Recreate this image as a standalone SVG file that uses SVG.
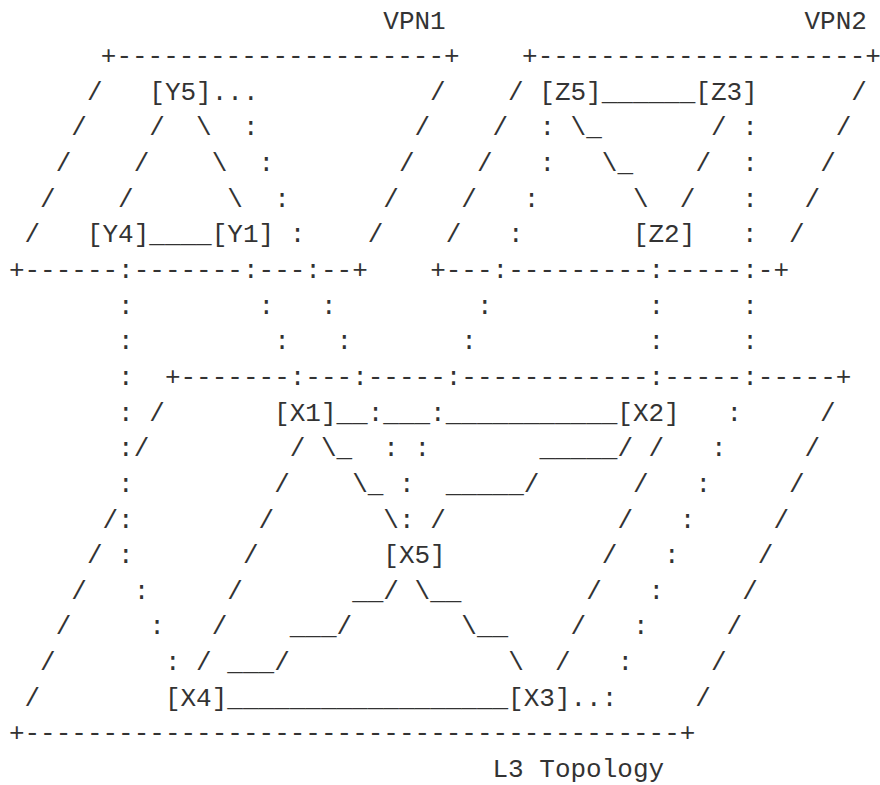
<svg xmlns="http://www.w3.org/2000/svg" width="880" height="785" viewBox="0 0 880 785">
<style>
text{font-family:"Liberation Mono","DejaVu Sans Mono",monospace;font-size:26px;fill:#333333;white-space:pre}
</style>
<rect width="880" height="785" fill="#ffffff"/>
<g id="labels">
<text x="383.3" y="28.5">VPN1</text>
<text x="804.5" y="28.5">VPN2</text>
<text x="492.5" y="776.9">L3 Topology</text>
</g>
<g id="connectors" xml:space="preserve">
<text x="100.8" y="64.1">+---------------------+    +---------------------+</text>
<text x="86.9" y="99.8">/</text>
<text x="211.7" y="99.8">...</text>
<text x="430.1" y="99.8">/    /</text>
<text x="601.7" y="99.8">______</text>
<text x="851.3" y="99.8">/</text>
<text x="8.9" y="135.4">    /    /  \  :          /    /  : \_       / :     /</text>
<text x="8.9" y="171.1">   /    /    \  :        /    /   :   \_    /  :    /</text>
<text x="8.9" y="206.7">  /    /      \  :      /    /   :      \  /   :   /</text>
<text x="24.5" y="242.3">/</text>
<text x="149.3" y="242.3">____</text>
<text x="289.7" y="242.3">:    /    /   :</text>
<text x="742.1" y="242.3">:  /</text>
<text x="8.9" y="278.0">+------:-------:---:--+    +---:---------:-----:-+</text>
<text x="8.9" y="313.6">       :        :   :         :          :     :</text>
<text x="8.9" y="349.3">       :         :   :       :           :     :</text>
<text x="8.9" y="384.9">       :  +-------:---:-----:------------:-----:-----+</text>
<text x="118.1" y="420.5">: /</text>
<text x="336.5" y="420.5">__:___:___________</text>
<text x="726.5" y="420.5">:     /</text>
<text x="8.9" y="456.2">       :/         / \_  : :       _____/ /   :     /</text>
<text x="8.9" y="491.8">       :         /    \_ :  _____/      /   :     /</text>
<text x="8.9" y="527.5">      /:        /       \: /           /   :     /</text>
<text x="86.9" y="563.1">/ :       /</text>
<text x="601.7" y="563.1">/   :     /</text>
<text x="8.9" y="598.7">    /   :     /       __/ \__        /   :     /</text>
<text x="8.9" y="634.4">   /     :   /    ___/       \__    /   :     /</text>
<text x="8.9" y="670.0">  /       : / ___/              \  /   :     /</text>
<text x="24.5" y="705.7">/</text>
<text x="227.3" y="705.7">__________________</text>
<text x="570.5" y="705.7">..:     /</text>
<text x="8.9" y="741.3">+------------------------------------------+</text>
</g>
<g id="Y5"><text x="149.3" y="99.8">[Y5]</text></g>
<g id="Z5"><text x="539.3" y="99.8">[Z5]</text></g>
<g id="Z3"><text x="695.3" y="99.8">[Z3]</text></g>
<g id="Y4"><text x="86.9" y="242.3">[Y4]</text></g>
<g id="Y1"><text x="211.7" y="242.3">[Y1]</text></g>
<g id="Z2"><text x="632.9" y="242.3">[Z2]</text></g>
<g id="X1"><text x="274.1" y="420.5">[X1]</text></g>
<g id="X2"><text x="617.3" y="420.5">[X2]</text></g>
<g id="X5"><text x="383.3" y="563.1">[X5]</text></g>
<g id="X4"><text x="164.9" y="705.7">[X4]</text></g>
<g id="X3"><text x="508.1" y="705.7">[X3]</text></g>
</svg>
